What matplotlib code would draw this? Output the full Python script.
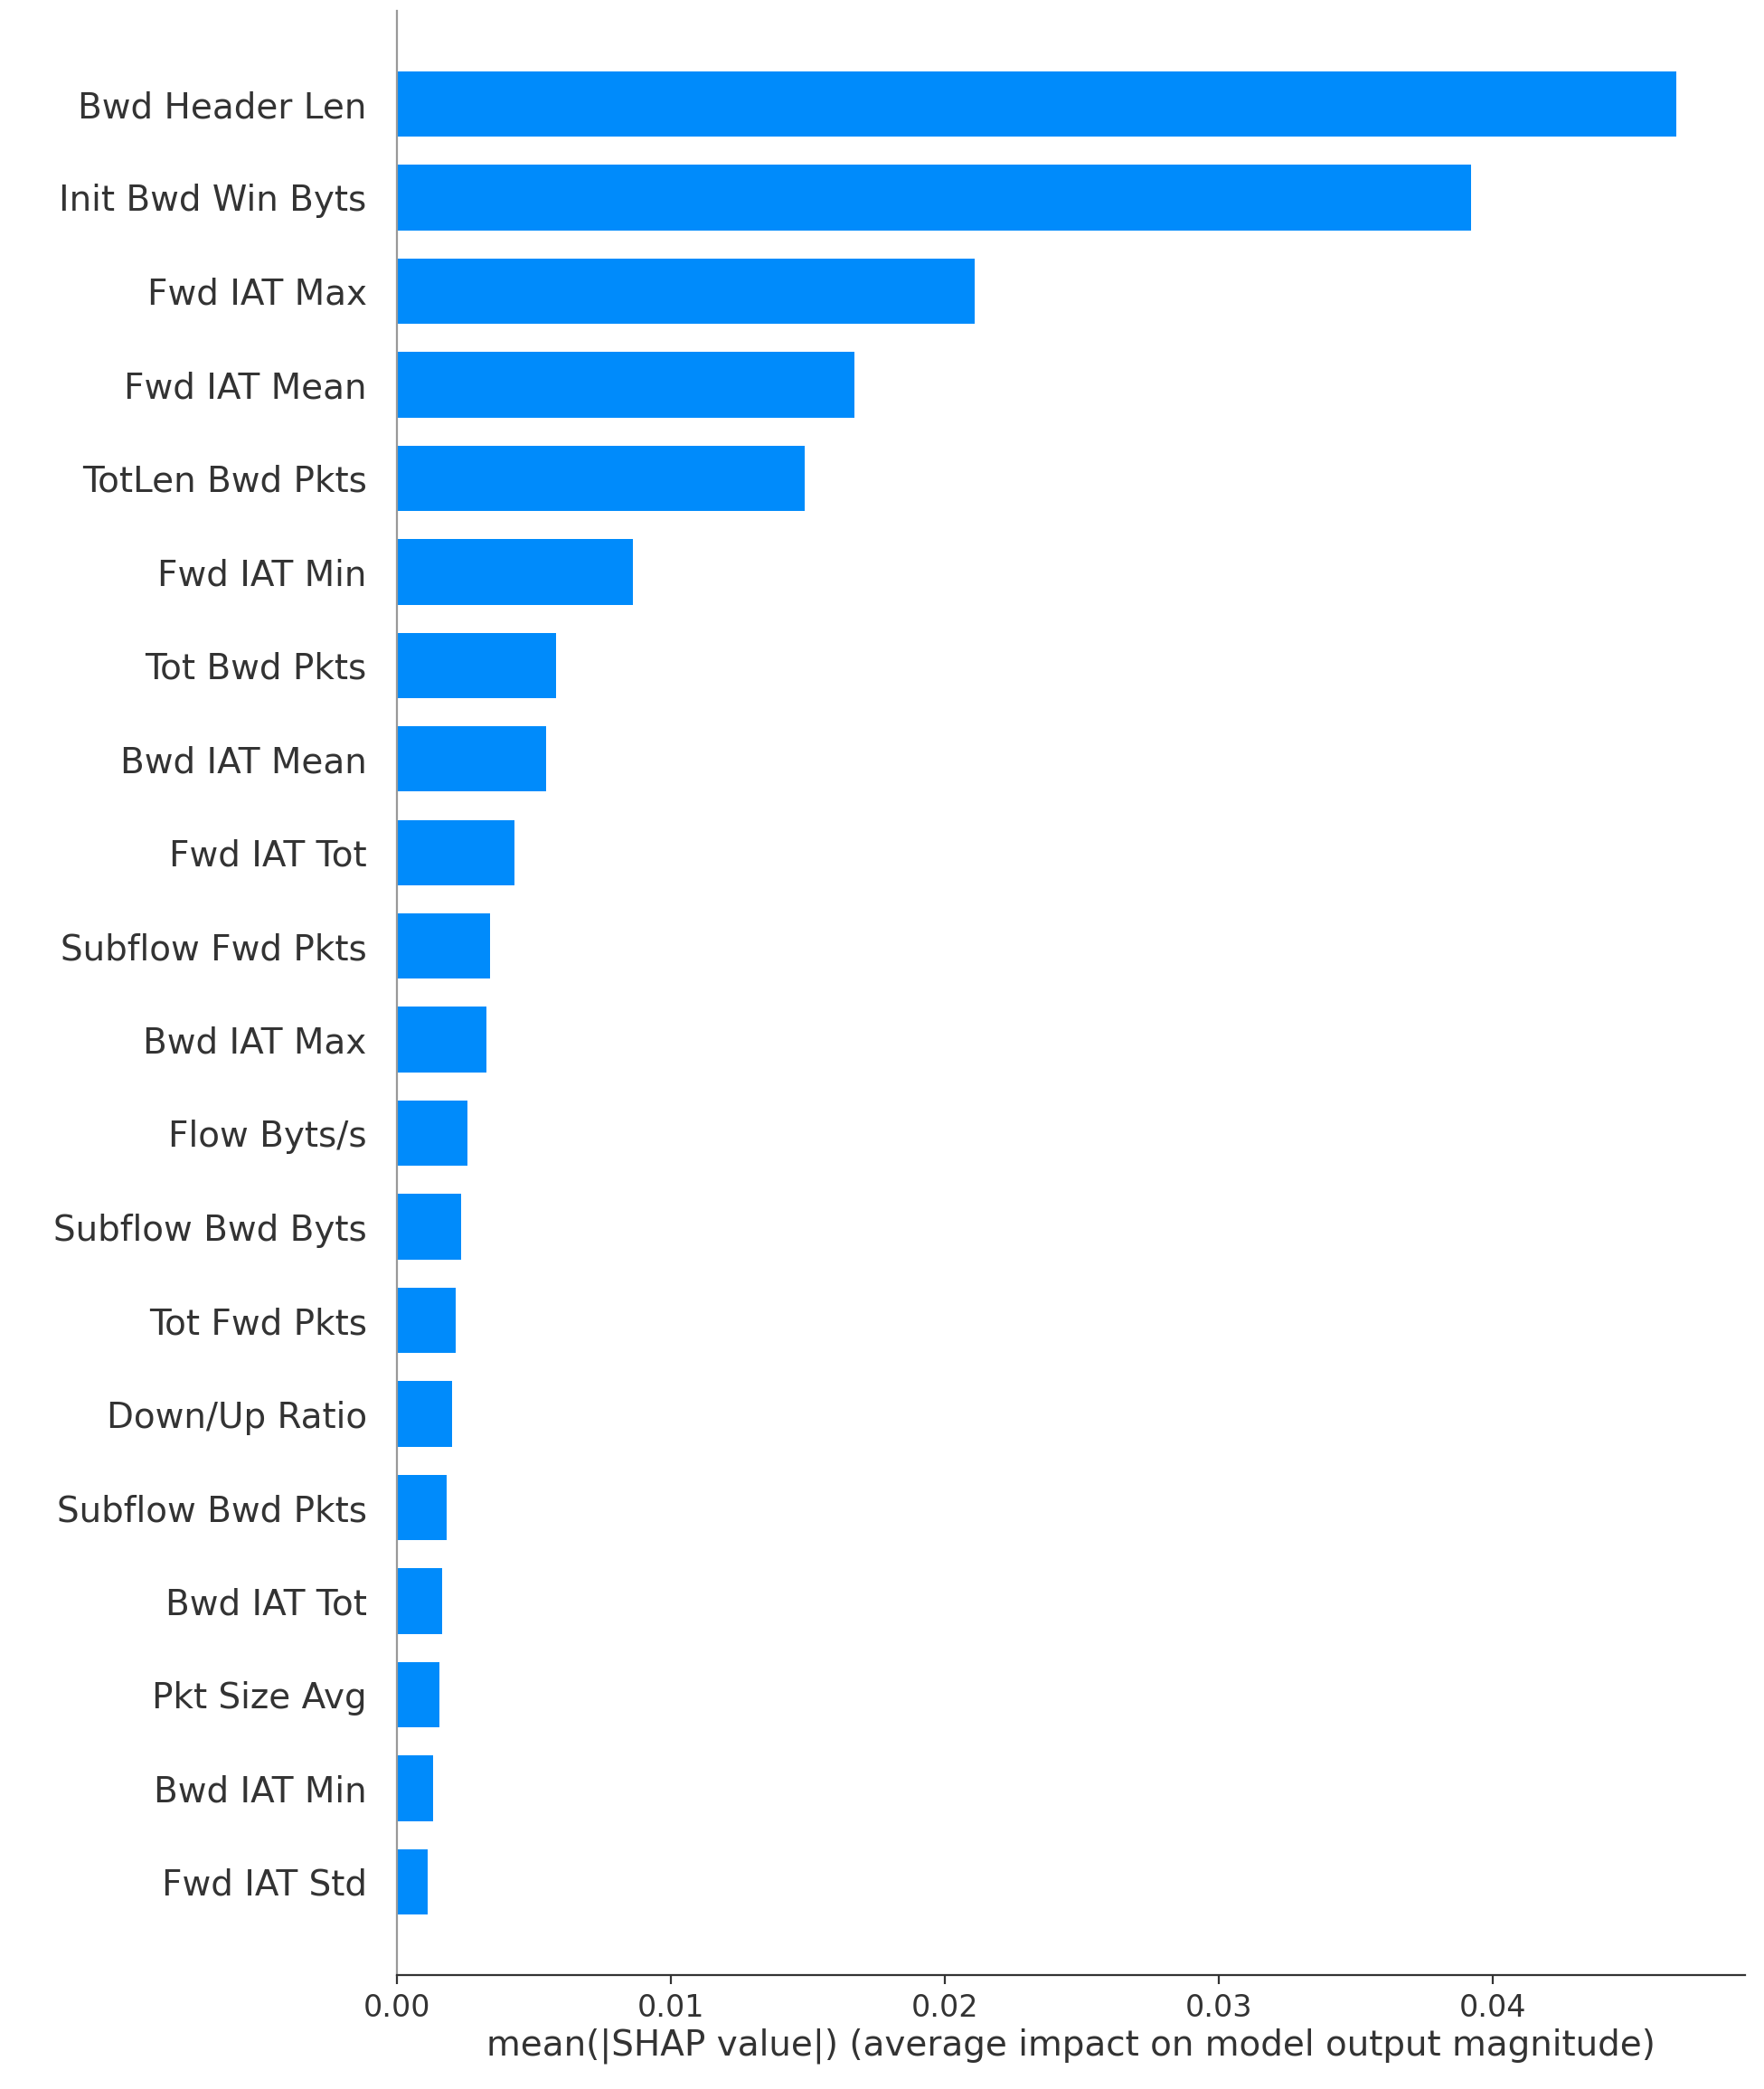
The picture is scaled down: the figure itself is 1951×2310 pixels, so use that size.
import numpy as np
import matplotlib.pyplot as plt

features = ["Bwd Header Len", "Init Bwd Win Byts", "Fwd IAT Max", "Fwd IAT Mean",
            "TotLen Bwd Pkts", "Fwd IAT Min", "Tot Bwd Pkts", "Bwd IAT Mean",
            "Fwd IAT Tot", "Subflow Fwd Pkts", "Bwd IAT Max", "Flow Byts/s",
            "Subflow Bwd Byts", "Tot Fwd Pkts", "Down/Up Ratio", "Subflow Bwd Pkts",
            "Bwd IAT Tot", "Pkt Size Avg", "Bwd IAT Min", "Fwd IAT Std"]
mean_shap = [0.0467, 0.0392, 0.0211, 0.0167, 0.0149, 0.00863, 0.0058, 0.00546,
             0.00429, 0.00341, 0.00327, 0.00259, 0.00234, 0.00215, 0.0020, 0.0018,
             0.00166, 0.00156, 0.00132, 0.00112]

fig = plt.figure(figsize=(9.755, 11.55), dpi=200)
ax = fig.add_axes([0.225, 0.0544, 0.764, 0.9406])

y = np.arange(len(features))[::-1]
ax.barh(y, mean_shap, height=0.7, color="#008bfb")
ax.set_yticks(y)
ax.set_yticklabels(features, fontsize=14, color="#333333")
ax.set_ylim(-1, len(features))
ax.set_xlim(0, 0.0492)
ax.set_xticks([0, 0.01, 0.02, 0.03, 0.04])
ax.set_xticklabels(["0.00", "0.01", "0.02", "0.03", "0.04"])
ax.tick_params(axis="x", labelsize=12, colors="#333333")
ax.tick_params(axis="y", length=0, pad=12)
for s in ["top", "right"]:
    ax.spines[s].set_visible(False)
ax.spines["left"].set_color("#999999")
ax.spines["bottom"].set_color("#333333")
ax.set_xlabel("mean(|SHAP value|) (average impact on model output magnitude)",
              fontsize=14, color="#333333", labelpad=2)

fig.savefig("out.png", dpi=200)
